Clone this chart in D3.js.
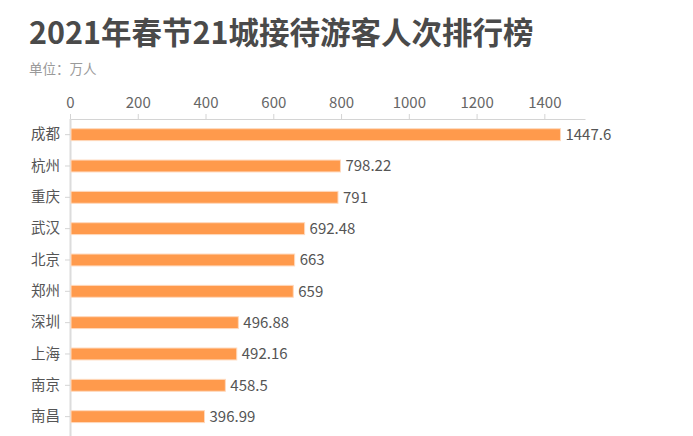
<!DOCTYPE html>
<html>
<head>
<meta charset="utf-8">
<script src="https://cdn.jsdelivr.net/npm/d3@7"></script>
<style>
  body { margin: 0; background: #fff; }
  svg { font-family: "Noto Sans CJK SC", "Noto Sans", sans-serif; }
</style>
</head>
<body>
<div id="chart"></div>
<script>
var cities = ["成都", "杭州", "重庆", "武汉", "北京", "郑州", "深圳", "上海", "南京", "南昌"];
var visitors = [1447.6, 798.22, 791, 692.48, 663, 659, 496.88, 492.16, 458.5, 396.99];
var xTicks = [0, 200, 400, 600, 800, 1000, 1200, 1400];

var width = 693;
var height = 436;
var left = 70;
var right = 585;
var axisY = 119;
var step = 31.33;
var font = "\"Noto Sans CJK SC\", \"Noto Sans\", sans-serif";

var svg = d3.select("#chart")
    .append("svg")
    .attr("width", width)
    .attr("height", height);

svg.append("text")
    .attr("x", 29)
    .attr("y", 44)
    .style("font-size", "30.5px")
    .style("font-weight", "bold")
    .style("fill", "#4a4a4a")
    .text("2021年春节21城接待游客人次排行榜");

svg.append("text")
    .attr("x", 29)
    .attr("y", 74)
    .style("font-size", "13.5px")
    .style("fill", "#9a9a9a")
    .text("单位：万人");

var x = d3.scaleLinear()
    .domain([0, 1520])
    .range([left, right]);

var y = d3.scaleBand()
    .domain(cities)
    .range([axisY, axisY + step * cities.length])
    .paddingInner(0.62)
    .paddingOuter(0.31);

// top axis
var xAxis = svg.append("g")
    .attr("transform", "translate(0," + axisY + ")")
    .call(d3.axisTop(x).tickValues(xTicks).tickFormat(d3.format("d"))
        .tickSize(5).tickSizeOuter(0).tickPadding(6));

xAxis.select(".domain").style("stroke", "#d4d4d4");
xAxis.selectAll(".tick line").style("stroke", "#d4d4d4");
xAxis.selectAll(".tick text")
    .style("font-size", "15px")
    .style("fill", "#666")
    .style("font-family", font);

// left axis
var yAxis = svg.append("g")
    .attr("transform", "translate(" + left + ",0)")
    .call(d3.axisLeft(y).tickSize(5).tickSizeOuter(0).tickPadding(5));

yAxis.select(".domain")
    .attr("d", "M0.5," + axisY + "V" + height)
    .style("stroke", "#dcdcdc")
    .style("stroke-width", 2);
yAxis.selectAll(".tick line").style("stroke", "#d4d4d4");
yAxis.selectAll(".tick text")
    .style("font-size", "14.5px")
    .style("fill", "#555")
    .style("font-family", font);

svg.selectAll("rect.bar")
    .data(cities)
    .enter()
    .append("rect")
    .attr("class", "bar")
    .attr("x", x(0) + 1)
    .attr("y", function (d) { return y(d); })
    .attr("width", function (d, i) { return x(visitors[i]) - x(0) - 1; })
    .attr("height", y.bandwidth())
    .style("fill", "#ff9a4c")
    .style("stroke", "#ffd9bd")
    .style("stroke-width", 1);

svg.selectAll("text.value")
    .data(cities)
    .enter()
    .append("text")
    .attr("class", "value")
    .attr("x", function (d, i) { return x(visitors[i]) + 5; })
    .attr("y", function (d) { return y(d) + y.bandwidth() / 2; })
    .attr("dy", "0.35em")
    .style("font-size", "15px")
    .style("fill", "#555")
    .text(function (d, i) { return visitors[i]; });
</script>
</body>
</html>
